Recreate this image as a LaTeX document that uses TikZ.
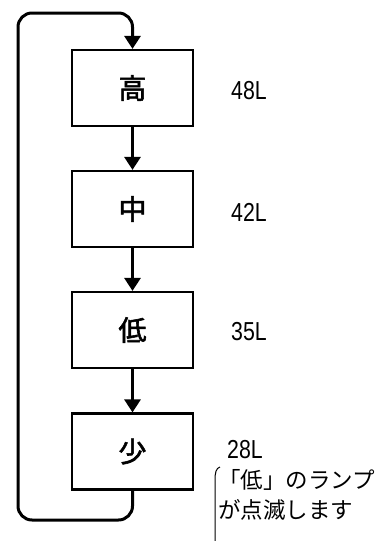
\documentclass[tikz,border=0pt]{standalone}
\usepackage{fontspec}
\setmainfont{Liberation Sans}
\newfontfamily\jpfont{Noto Sans CJK JP}
\newfontfamily\jpboldfont[FakeBold=2]{Noto Sans CJK JP}
\usetikzlibrary{arrows.meta}

\begin{document}
\begin{tikzpicture}[
	x=1pt, y=-1pt, % one unit per pixel, y pointing down
	% Style for the level boxes
	level node/.style={
		rectangle,
		draw=black,
		line width=2.2pt,
		minimum width=121pt,
		minimum height=76pt,
		font=\fontsize{28}{28}\jpboldfont
	},
	% Style for the arrows between the boxes
	flow/.style={
		draw=black,
		line width=3pt,
		-{Triangle[length=13pt,width=16pt]}
	},
	% Style for the litre values
	liter/.style={
		anchor=west,
		inner sep=0pt,
		font=\fontsize{26}{26}\selectfont
	},
	% Style for the note under the last value
	note/.style={
		anchor=west,
		inner sep=0pt,
		font=\fontsize{22.5}{22.5}\jpfont
	}
	]
	\useasboundingbox (0,0) rectangle (386,541);
	
	% 1. Level boxes
	\node[level node] (high) at (132.5,88) {高};
	\node[level node] (mid) at (132.5,209) {中};
	\node[level node] (low) at (132.5,330) {低};
	\node[level node] (least) at (132.5,451.5) {少};
	
	% 2. Arrows, and the loop back to the top
	\draw[flow] (high) -- (mid);
	\draw[flow] (mid) -- (low);
	\draw[flow] (low) -- (least);
	
	\coordinate (loop bottom) at (18,520);
	\coordinate (loop top) at (18,13);
	\draw[flow, rounded corners=14pt] (least.south) |- (loop bottom) -- (loop top) -| (high.north);
	
	% 3. Values and note
	\node[liter] (v48) at (231,91) {\scalebox{0.82}[1]{48L}};
	\node[liter] (v42) at (231,212) {\scalebox{0.82}[1]{42L}};
	\node[liter] (v35) at (231,332) {\scalebox{0.82}[1]{35L}};
	\node[liter] (v28) at (227,450) {\scalebox{0.82}[1]{28L}};
	
	\draw[line width=1pt] (220,467) .. controls (216,468) and (215,473) .. (215,480) -- (215,545);
	\node[note] (note1) at (218,480) {「低」のランプ};
	\node[note] (note2) at (218,510) {が点滅します};
	
\end{tikzpicture}
\end{document}
